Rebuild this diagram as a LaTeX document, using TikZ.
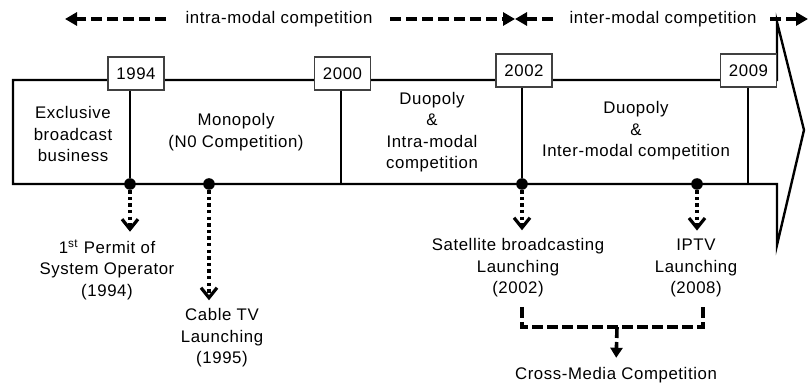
\documentclass[tikz,border=0pt]{standalone}
\usepackage{fontspec}
\setmainfont{Liberation Sans}[LetterSpace=3.5]
\usetikzlibrary{arrows.meta}
\def\bodytop{80}
\def\bodybot{184}
\def\headx{777}

\tikzset{
  txt/.style={align=center, inner sep=0pt, font=\fontsize{8.4pt}{10.75pt}\selectfont},
  yearbox/.style={txt, draw=black!75, line width=0.6pt, fill=white, minimum width=28pt, minimum height=16.5pt},
  event/.style={circle, fill=black, inner sep=0pt, minimum size=5.8pt},
  dotarrow/.style={line width=2pt, dash pattern=on 1.7pt off 1.6pt, shorten >=4pt,
    -{Straight Barb[length=5pt,width=8pt,line width=1.6pt]}},
  toparrow/.style={line width=2pt, dash pattern=on 5.5pt off 2.5pt, -{Triangle[length=6pt,width=6.5pt]}},
  bracket/.style={line width=1.8pt, dash pattern=on 5.5pt off 2pt},
}

\begin{document}
\begin{tikzpicture}[x=0.5pt, y=-0.5pt, line join=miter]
  \useasboundingbox (0,0) rectangle (810,385);
  % competition arrows on top
  \coordinate (a0) at (65,19);
  \coordinate (a1) at (166,19);
  \coordinate (a2) at (390,19);
  \coordinate (mid) at (515,19);
  \coordinate (a3) at (553,19);
  \coordinate (a4) at (770,19);
  \coordinate (a5) at (808,19);
  \node[txt] (intra) at (279,19) {intra-modal competition};
  \node[txt] (inter) at (663,19) {inter-modal competition};
  \draw[toparrow] (a1) -- (a0);
  \draw[toparrow] (a2) -- (mid);
  \draw[toparrow] (a3) -- (mid);
  \draw[toparrow] (a4) -- (a5);
  % the big time arrow
  \draw[line width=1.2pt] (13,\bodytop) -- (\headx,\bodytop) -- (\headx,22) -- (804,130)
    -- (\headx,245) -- (\headx,\bodybot) -- (13,\bodybot) -- cycle;
  % event dots on the lower edge
  \node[event] (d1) at (130,\bodybot) {};
  \node[event] (d2) at (209,\bodybot) {};
  \node[event] (d3) at (522,\bodybot) {};
  \node[event] (d4) at (697,\bodybot) {};
  \coordinate (d5) at (748,\bodybot);
  \coordinate (d6) at (341,\bodybot);
  % year boxes and period borders
  \node[yearbox] (y1994) at (136,73.5) {1994};
  \node[yearbox] (y2000) at (342.5,73.5) {2000};
  \node[yearbox] (y2002) at (524,70.5) {2002};
  \node[yearbox] (y2009) at (748.5,70.5) {2009};
  \draw[line width=1.2pt] (y1994.south -| d1) -- (d1);
  \draw[line width=1.2pt] (y2000.south -| d6) -- (d6);
  \draw[line width=1.2pt] (y2002.south -| d3) -- (d3);
  \draw[line width=1.2pt] (y2009.south -| d5) -- (d5);
  % periods
  \node[txt] (p1) at (73,134) {Exclusive\\broadcast\\business};
  \node[txt] (p2) at (236,132) {Monopoly\\(N0 Competition)};
  \node[txt] (p3) at (432,132) {Duopoly\\\&\\Intra-modal\\competition};
  \node[txt] (p4) at (636,131) {Duopoly\\\&\\Inter-modal competition};
  % events
  \node[txt] (e1) at (107,270) {1\textsuperscript{st} Permit of\\System Operator\\(1994)};
  \node[txt] (e2) at (222,338) {Cable TV\\Launching\\(1995)};
  \node[txt] (e3) at (518,268) {Satellite broadcasting\\Launching\\(2002)};
  \node[txt] (e4) at (696,268) {IPTV\\Launching\\(2008)};
  \draw[dotarrow] (d1) -- (d1 |- e1.north);
  \draw[dotarrow] (d2) -- (d2 |- e2.north);
  \draw[dotarrow] (d3) -- (d3 |- e3.north);
  \draw[dotarrow] (d4) -- (d4 |- e4.north);
  % cross-media bracket
  \coordinate (bl) at (522,307);
  \coordinate (br) at (703,307);
  \coordinate (bm) at (617,327);
  \node[txt] (cm) at (616,375) {Cross-Media Competition};
  \draw[bracket] (bl) |- (bm) -| (br);
  \draw[bracket, shorten >=4.5pt, -{Triangle[length=5pt,width=6pt]}] (bm) -- (cm.north);
\end{tikzpicture}
\end{document}
